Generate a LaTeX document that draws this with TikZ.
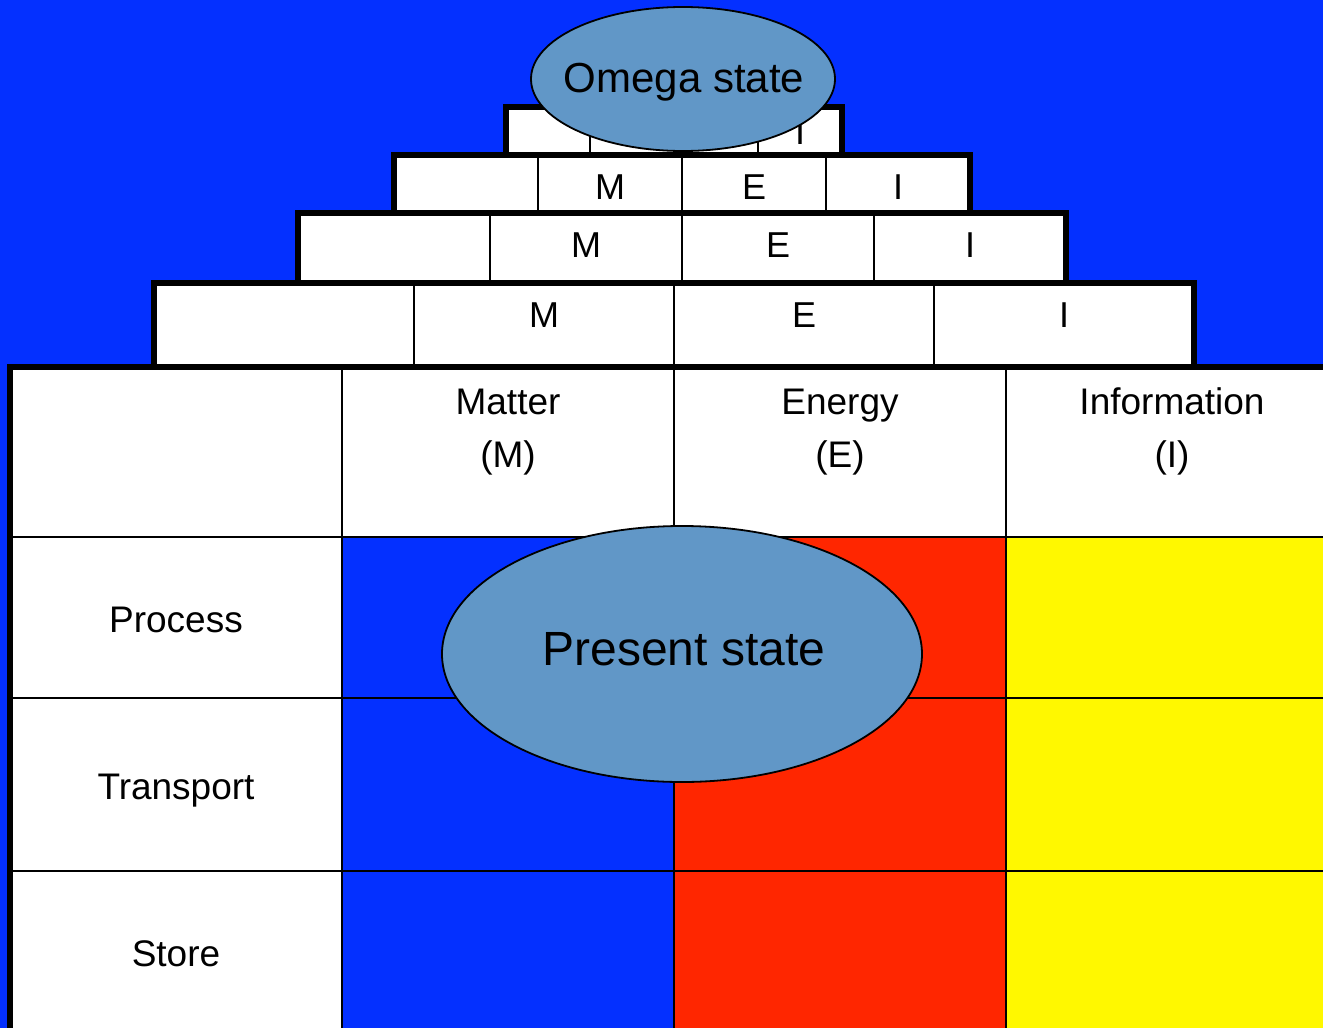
\documentclass[tikz,border=0pt]{standalone}
\usepackage{fontspec}
\setmainfont{Liberation Sans}
\usepackage{tikz}
\usetikzlibrary{shapes.geometric}
\definecolor{bgblue}{RGB}{4,48,255}
\definecolor{mred}{RGB}{255,38,0}
\definecolor{iyellow}{RGB}{255,248,0}
\definecolor{stateblue}{RGB}{97,151,199}

\begin{document}
\begin{tikzpicture}[x=.5pt,y=-.5pt,
  rule/.style={line width=1pt},
  frame/.style={line width=2.7pt},
  bubble/.style={ellipse,draw,line width=.9pt,fill=stateblue,inner sep=0pt},
  lbl/.style={anchor=base,inner sep=0pt,font=\fontsize{18.5}{22}\selectfont},
  letter/.style={anchor=base,inner sep=0pt,font=\fontsize{18}{22}\selectfont}]
\useasboundingbox (0,0) rectangle (1323,1028);
\clip (0,0) rectangle (1323,1028);
\fill[bgblue] (0,0) rectangle (1323,1028);

% the table
\fill[white] (10,367) rectangle (1338,1040);
\fill[bgblue] (342,537) rectangle (674,1040);
\fill[mred] (674,537) rectangle (1006,1040);
\fill[iyellow] (1006,537) rectangle (1338,1040);
\foreach \x in {342,674,1006} \draw[rule] (\x,367) -- (\x,1040);
\foreach \y in {537,698,871} \draw[rule] (10,\y) -- (1338,\y);
\draw[frame] (10,367) rectangle (1338,1040);

\foreach \x/\n/\s in {508/Matter/M,840/Energy/E,1172/Information/I}{
  \node[lbl] (hd\s) at (\x,414) {\n};
  \node[lbl] (sym\s) at (\x,467) {(\s)};
}
\node[lbl] (process) at (176,632) {Process};
\node[lbl] (transport) at (176,799) {Transport};
\node[lbl] (store) at (176,966) {Store};

% the steps, bottom one first
\foreach \xa/\ya/\yb/\w/\yt [count=\k] in {154/283/367/260/327, 298/213/283/192/257, 394/155/213/144/199, 506/107/155/84/144}{
  \fill[white] (\xa,\ya) rectangle ({\xa+4*\w},\yb);
  \foreach \i/\c in {1/M,2/E,3/I}{
    \draw[rule] ({\xa+\i*\w},\ya) -- ({\xa+\i*\w},\yb);
    \node[letter] (\c\k) at ({\xa+(\i+.5)*\w},\yt) {\c};
  }
  \draw[frame] (\xa,\ya) rectangle ({\xa+4*\w},\yb);
}

% the two states
\node[bubble,minimum width=152pt,minimum height=72pt] (omega) at (683,79) {};
\node[anchor=base,inner sep=0pt,font=\fontsize{21}{25}\selectfont] (omegatxt) at (684,92) {Omega state};
\node[bubble,minimum width=240pt,minimum height=128pt] (present) at (682,654) {};
\node[anchor=base,inner sep=0pt,font=\fontsize{24}{28}\selectfont] (presenttxt) at (684,665) {Present state};
\end{tikzpicture}
\end{document}
